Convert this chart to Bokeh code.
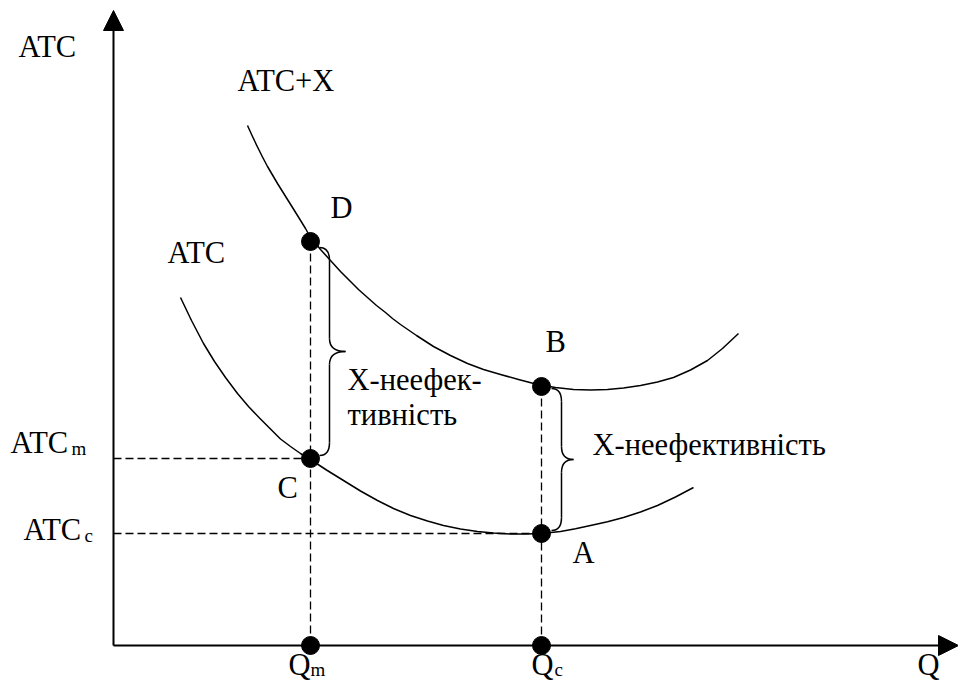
from bokeh.plotting import figure
from bokeh.models import Range1d, Arrow, NormalHead, ColumnDataSource
from bokeh.core.properties import value
from bokeh.embed import file_html
from bokeh.resources import INLINE

# ---- data (Q on x, ATC on y) ----
atc_q = [67, 78, 90, 101, 112, 124, 135, 146, 157, 167, 177, 187, 197, 213, 230, 247, 264, 280,
         297, 314, 330, 347, 364, 380, 397, 412, 428, 447, 462, 477, 494, 510, 527, 544, 562, 580]
atc_v = [348, 325, 302, 284, 268, 252, 239, 227.5, 216.5, 206.5, 199, 192, 186, 175.5, 165, 154.5,
         145, 137, 130, 124.5, 120, 116.5, 114, 112.5, 111.5, 111.5, 112, 114, 116.7, 120, 123.7,
         128, 133.5, 140, 148.5, 158]
atcx_q = [134, 139, 144, 149, 154, 164, 174, 184, 192, 197, 207, 217, 227, 237, 245, 254, 263, 272,
          279, 287, 303, 320, 337, 354, 370, 387, 405, 424, 442, 460, 477, 494, 510, 527, 544, 560,
          577, 594, 609, 625]
atcx_v = [520, 509, 498.5, 488.5, 479, 462, 446, 430, 417, 408, 396, 385, 374, 364, 356, 348, 340,
          333, 327, 321, 310, 299, 290, 282, 276, 271, 266, 261, 258, 256, 255.5, 256, 257.5, 260,
          263.5, 268, 275.5, 285, 297, 312]

q_m, q_c = 197, 428          # Q_m, Q_c
atc_m, atc_c = 187, 112      # ATC_m (point C), ATC_c (point A)
atcx_m, atcx_c = 404, 259    # point D, point B
q_max, atc_max = 845, 635    # axis ends

main_labels = ["ATC", "ATC+X", "ATC", "D", "C", "B", "A", "X-неефек-", "тивність",
               "X-неефективність", "ATC", "ATC", "Q", "Q", "Q"]
main_x = [-95, 124, 54, 217, 164, 432, 459, 234, 234, 479, -103, -90, 175, 418, 804]
main_y = [599, 565, 393, 438, 158, 304, 93, 266, 231, 201, 203, 116, -19, -19, -19]
sub_labels = ["m", "c", "m", "c"]
sub_x = [-42, -29, 197, 441]
sub_y = [197, 110, -24, -24]

FONT = value("serif")

p = figure(width=958, height=682, output_backend="svg", toolbar_location=None,
           x_range=Range1d(-113, 845), y_range=Range1d(-37, 645),
           min_border=0, min_border_left=0, min_border_right=0,
           min_border_top=0, min_border_bottom=0)
p.axis.visible = False
p.grid.visible = False
p.outline_line_color = None
p.background_fill_color = "white"
p.border_fill_color = "white"

# curves
p.line(atc_q, atc_v, line_color="black", line_width=1.5, line_join="round")
p.line(atcx_q, atcx_v, line_color="black", line_width=1.5, line_join="round")

# dashed guides
dash = ColumnDataSource(dict(
    x0=[q_m, q_c, 0, 0],
    y0=[atcx_m, atcx_c, atc_m, atc_c],
    x1=[q_m, q_c, q_m, q_c],
    y1=[0, 0, atc_m, atc_c]))
p.segment("x0", "y0", "x1", "y1", source=dash, line_color="black",
          line_width=1.3, line_dash="8 4")

# braces
def brace(xb, y_top, y_bot, w, h=10, r=13):
    ym = (y_top + y_bot) / 2.0
    quads = [
        (xb - h, y_top, xb, y_top - r, xb, y_top),
        (xb, ym + r, xb + w, ym, xb, ym),
        (xb + w, ym, xb, ym - r, xb, ym),
        (xb, y_bot + r, xb - h, y_bot, xb, y_bot),
    ]
    segs = [(xb, y_top - r, xb, ym + r), (xb, ym - r, xb, y_bot + r)]
    return quads, segs

qs, ss = [], []
for (xb, yt, yb, w) in [(q_m + 19, atcx_m - 6, atc_m + 3, 16),
                        (q_c + 20, atcx_c - 2, atc_c + 3, 12)]:
    a, b = brace(xb, yt, yb, w)
    qs += a
    ss += b
p.quadratic(x0=[t[0] for t in qs], y0=[t[1] for t in qs],
            x1=[t[2] for t in qs], y1=[t[3] for t in qs],
            cx=[t[4] for t in qs], cy=[t[5] for t in qs],
            line_color="black", line_width=1.5)
p.segment(x0=[s[0] for s in ss], y0=[s[1] for s in ss],
          x1=[s[2] for s in ss], y1=[s[3] for s in ss],
          line_color="black", line_width=1.5)

# axes with arrows
for xe, ye in [(0, atc_max), (q_max, 0)]:
    p.add_layout(Arrow(end=NormalHead(size=20, fill_color="black", line_color="black"),
                       x_start=0, y_start=0, x_end=xe, y_end=ye,
                       line_color="black", line_width=2))

# points
p.scatter([q_m, q_m, q_c, q_c, q_m, q_c], [atcx_m, atc_m, atcx_c, atc_c, 0, 0],
          size=18, marker="circle", fill_color="black", line_color="black")

# labels
p.text(x=main_x, y=main_y, text=main_labels, text_font=FONT, text_font_size="30.5px",
       text_align="left", text_baseline="alphabetic", text_color="black")
p.text(x=sub_x, y=sub_y, text=sub_labels, text_font=FONT, text_font_size="19px",
       text_align="left", text_baseline="alphabetic", text_color="black")

open("out.html", "w").write(file_html(p, INLINE))
